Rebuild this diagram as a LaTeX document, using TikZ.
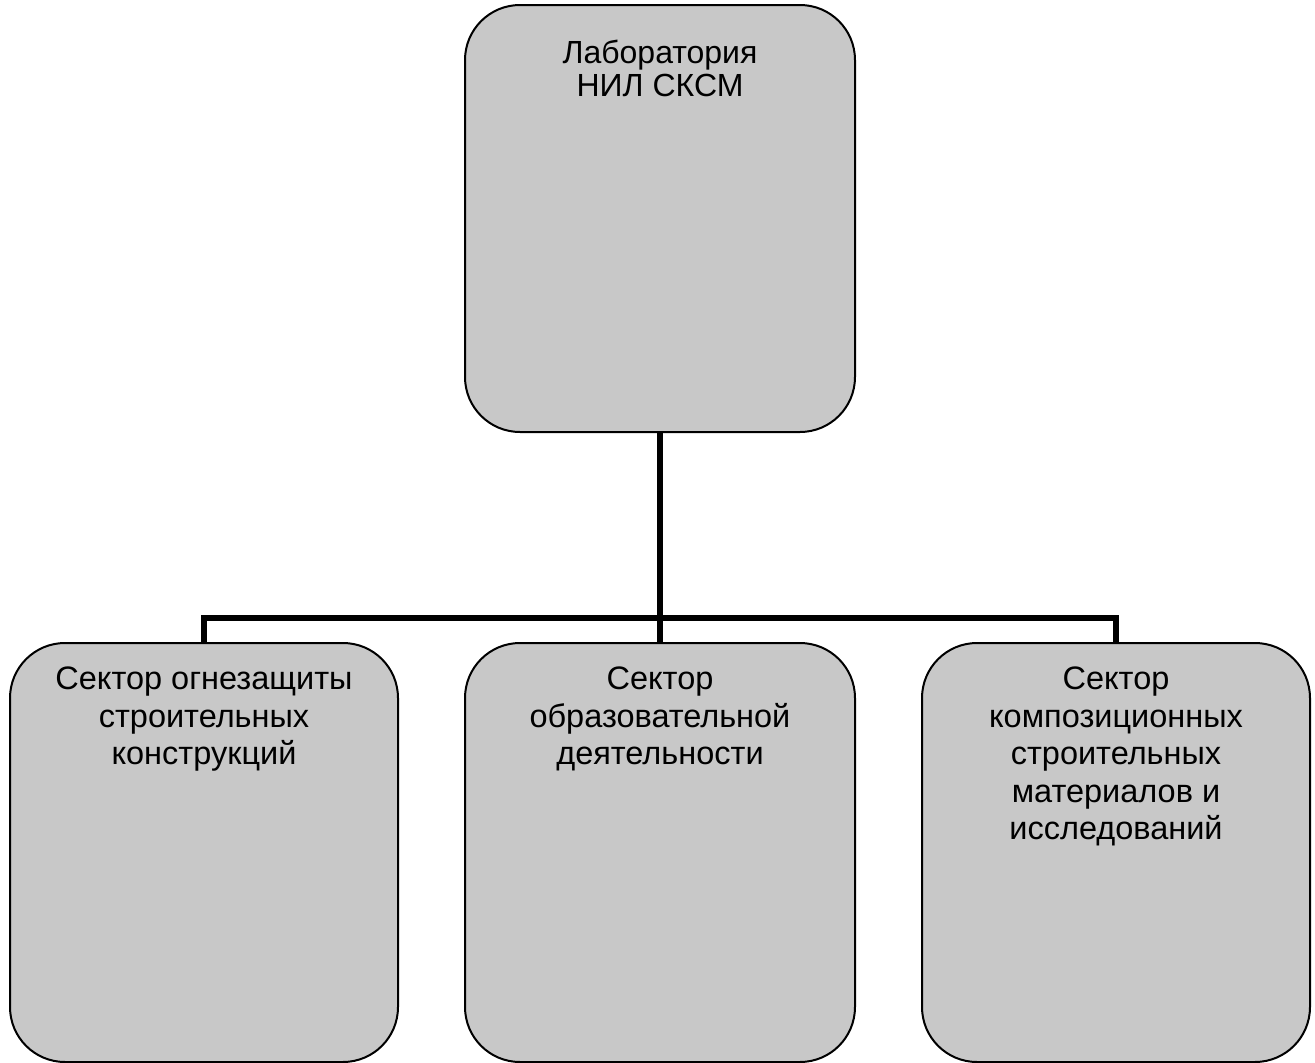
\documentclass[tikz,border=0pt]{standalone}
\usepackage{fontspec}
\setmainfont{Liberation Sans}
\begin{document}
\begin{tikzpicture}[x=1pt,y=-1pt,
  boxst/.style={draw=black,line width=2pt,fill={rgb,255:red,200;green,200;blue,200},rounded corners=55pt,inner sep=0pt},
  txt/.style={anchor=north,align=center,inner sep=0pt,font=\fontsize{32.5}{37.5}\selectfont},
  conn/.style={line width=6pt}]
\useasboundingbox (0,0) rectangle (1315,1063);
\node[boxst,minimum width=390pt,minimum height=427pt] (top) at (660,218.5) {};
\node[boxst,minimum width=388pt,minimum height=419pt] (left) at (204,852.5) {};
\node[boxst,minimum width=390pt,minimum height=419pt] (mid) at (660,852.5) {};
\node[boxst,minimum width=388pt,minimum height=419pt] (right) at (1116,852.5) {};
\node[txt,font=\fontsize{32}{33}\selectfont] (ttop) at (660,39.5) {Лаборатория\\НИЛ СКСМ};
\node[txt] (tleft) at (204,667) {Сектор огнезащиты\\строительных\\конструкций};
\node[txt] (tmid) at (660,667) {Сектор\\образовательной\\деятельности};
\node[txt] (tright) at (1116,667) {Сектор\\композиционных\\строительных\\материалов и\\исследований};
\coordinate (hub) at (660,618);
\draw[conn] (top.south) -- (mid.north);
\draw[conn] (left.north) |- (hub) -| (right.north);
\end{tikzpicture}
\end{document}
